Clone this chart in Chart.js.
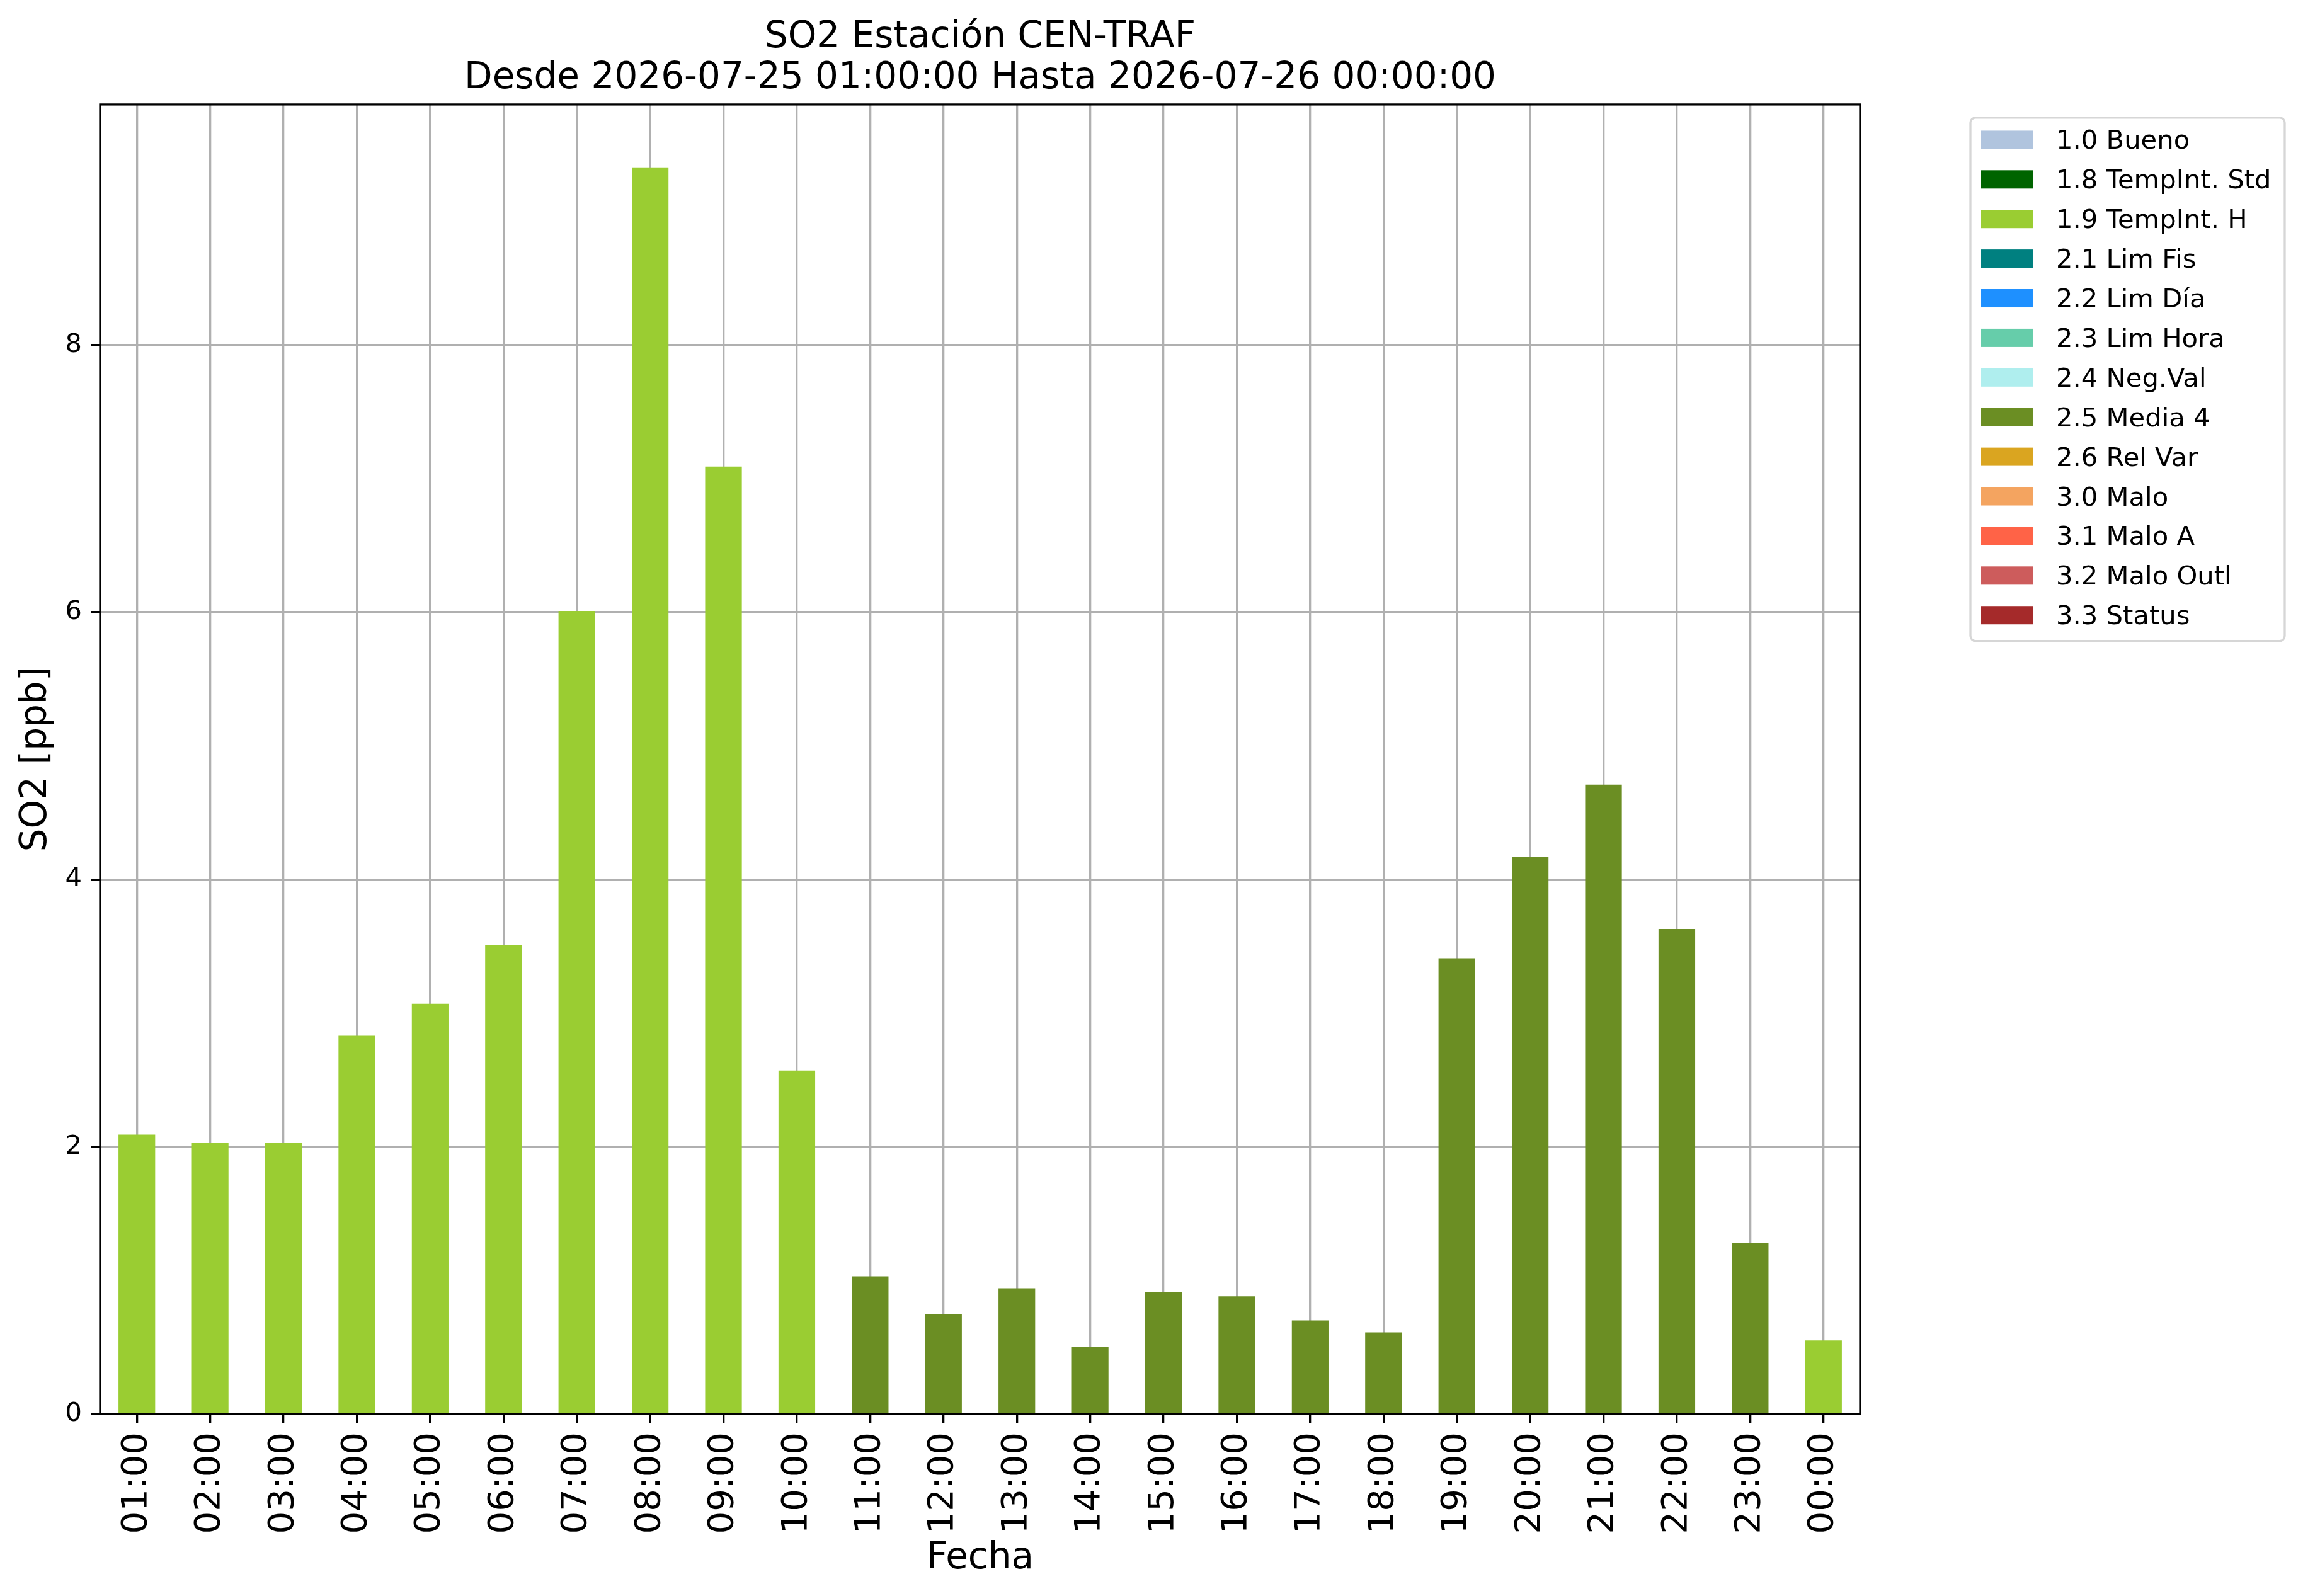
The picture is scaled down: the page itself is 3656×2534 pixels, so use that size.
<!DOCTYPE html>
<html lang="es">
<head>
<meta charset="utf-8">
<title>SO2 Estación CEN-TRAF</title>
<script src="https://cdn.jsdelivr.net/npm/chart.js@4.4.1/dist/chart.umd.min.js"></script>
<style>
  html, body { margin: 0; padding: 0; background: #ffffff; }
  #wrap { width: 3656px; height: 2534px; }
</style>
</head>
<body>
<div id="wrap"><canvas id="so2Chart" width="3656" height="2534"></canvas></div>
<script>
// Hourly SO2 values and the validation flag of each hour
const hours = ['01:00', '02:00', '03:00', '04:00', '05:00', '06:00', '07:00', '08:00',
               '09:00', '10:00', '11:00', '12:00', '13:00', '14:00', '15:00', '16:00',
               '17:00', '18:00', '19:00', '20:00', '21:00', '22:00', '23:00', '00:00'];
const so2Values = [2.09, 2.03, 2.03, 2.83, 3.07, 3.51, 6.01, 9.33, 7.09, 2.57, 1.03, 0.75,
                   0.94, 0.50, 0.91, 0.88, 0.70, 0.61, 3.41, 4.17, 4.71, 3.63, 1.28, 0.55];
const hourFlags = ['1.9', '1.9', '1.9', '1.9', '1.9', '1.9', '1.9', '1.9', '1.9', '1.9',
                   '2.5', '2.5', '2.5', '2.5', '2.5', '2.5', '2.5', '2.5', '2.5', '2.5',
                   '2.5', '2.5', '2.5', '1.9'];

// Flag categories (legend order)
const flagCodes = ['1.0', '1.8', '1.9', '2.1', '2.2', '2.3', '2.4', '2.5', '2.6', '3.0', '3.1', '3.2', '3.3'];
const flagNames = ['1.0 Bueno', '1.8 TempInt. Std', '1.9 TempInt. H', '2.1 Lim Fis', '2.2 Lim Día',
                   '2.3 Lim Hora', '2.4 Neg.Val', '2.5 Media 4', '2.6 Rel Var', '3.0 Malo',
                   '3.1 Malo A', '3.2 Malo Outl', '3.3 Status'];
const flagColors = ['#b0c4de', '#006400', '#9acd32', '#008080', '#1e90ff', '#66cdaa', '#afeeee',
                    '#6b8e23', '#daa520', '#f4a460', '#ff6347', '#cd5c5c', '#a52a2a'];

const yTicks = [0, 2, 4, 6, 8];
const yMax = 9.8;

const FONT = 'DejaVu Sans';

// one stacked dataset per flag, only filled at the hours carrying that flag
const datasets = flagCodes.map((code, i) => ({
    label: flagNames[i],
    data: so2Values.map((v, h) => hourFlags[h] === code ? v : null),
    backgroundColor: flagColors[i],
    borderWidth: 0,
    barPercentage: 0.5,
    categoryPercentage: 1.0
}));

// center the title over the plot area instead of the whole canvas
const centerTitle = {
    id: 'centerTitle',
    afterLayout(chart) {
        const t = chart.titleBlock;
        if (!t) return;
        t.left = chart.chartArea.left;
        t.right = chart.chartArea.right;
        t.width = t.right - t.left;
    }
};

// box around the plot, like matplotlib spines
const frame = {
    id: 'frame',
    afterDraw(chart) {
        const {ctx, chartArea: a} = chart;
        ctx.save();
        ctx.strokeStyle = '#000000';
        ctx.lineWidth = 3.3;
        ctx.strokeRect(a.left, a.top, a.right - a.left, a.bottom - a.top);
        ctx.restore();
    }
};

// legend box outside the plot, on the right
const flagLegend = {
    id: 'flagLegend',
    afterDraw(chart) {
        const ctx = chart.ctx;
        const a = chart.chartArea;
        const x0 = a.right + 175, y0 = a.top + 21;
        const w = 499, rowH = 62.9;
        const items = chart.data.datasets;
        const h = items.length * rowH + 13;
        const r = 8;

        ctx.save();
        ctx.beginPath();
        ctx.moveTo(x0 + r, y0);
        ctx.arcTo(x0 + w, y0, x0 + w, y0 + h, r);
        ctx.arcTo(x0 + w, y0 + h, x0, y0 + h, r);
        ctx.arcTo(x0, y0 + h, x0, y0, r);
        ctx.arcTo(x0, y0, x0 + w, y0, r);
        ctx.closePath();
        ctx.fillStyle = 'rgba(255,255,255,0.8)';
        ctx.fill();
        ctx.strokeStyle = '#d6d6d6';
        ctx.lineWidth = 3.3;
        ctx.stroke();

        ctx.font = `41.7px "${FONT}"`;
        ctx.textBaseline = 'alphabetic';
        ctx.textAlign = 'left';
        items.forEach((ds, i) => {
            const cy = y0 + 35 + i * rowH;
            ctx.fillStyle = ds.backgroundColor;
            ctx.fillRect(x0 + 17, cy - 14.5, 83, 29);
            ctx.fillStyle = '#000000';
            ctx.fillText(ds.label, x0 + 136, cy + 14.5);
        });
        ctx.restore();
    }
};

const gridOpts = {
    color: '#b0b0b0',
    lineWidth: 3.3,
    drawTicks: true,
    tickLength: 15,
    tickColor: '#000000',
    tickWidth: 3.3
};

new Chart(document.getElementById('so2Chart'), {
    type: 'bar',
    data: { labels: hours, datasets: datasets },
    options: {
        responsive: false,
        animation: false,
        devicePixelRatio: 1,
        layout: { padding: { top: 0, left: 0, right: 703, bottom: 0 } },
        plugins: {
            legend: { display: false },
            tooltip: { enabled: false },
            title: {
                display: true,
                text: ['SO2 Estación CEN-TRAF', 'Desde 2026-07-25 01:00:00 Hasta 2026-07-26 00:00:00'],
                color: '#000000',
                font: { family: FONT, size: 58, weight: 'normal', lineHeight: 1.12 },
                padding: { top: 27.5, bottom: 8.5 }
            }
        },
        scales: {
            x: {
                stacked: true,
                offset: true,
                z: 1,
                grid: Object.assign({ offset: false }, gridOpts),
                border: { display: false },
                ticks: {
                    autoSkip: false,
                    minRotation: 90,
                    maxRotation: 90,
                    padding: 14,
                    color: '#000000',
                    font: { family: FONT, size: 56 }
                },
                title: {
                    display: true,
                    text: 'Fecha',
                    color: '#000000',
                    font: { family: FONT, size: 58, lineHeight: 1.2 },
                    padding: { top: 0, bottom: 24 }
                },
                afterFit: s => { s.height = 289; }
            },
            y: {
                stacked: true,
                min: 0,
                max: yMax,
                z: 1,
                grid: gridOpts,
                border: { display: false },
                afterBuildTicks: s => { s.ticks = yTicks.map(v => ({ value: v })); },
                ticks: {
                    includeBounds: false,
                    padding: 14,
                    color: '#000000',
                    font: { family: FONT, size: 41.7 }
                },
                title: {
                    display: true,
                    text: 'SO2 [ppb]',
                    color: '#000000',
                    font: { family: FONT, size: 58, lineHeight: 1.2 },
                    padding: { top: 23, bottom: 0 }
                },
                afterFit: s => { s.width = 159; }
            }
        }
    },
    plugins: [centerTitle, frame, flagLegend]
});
</script>
</body>
</html>
